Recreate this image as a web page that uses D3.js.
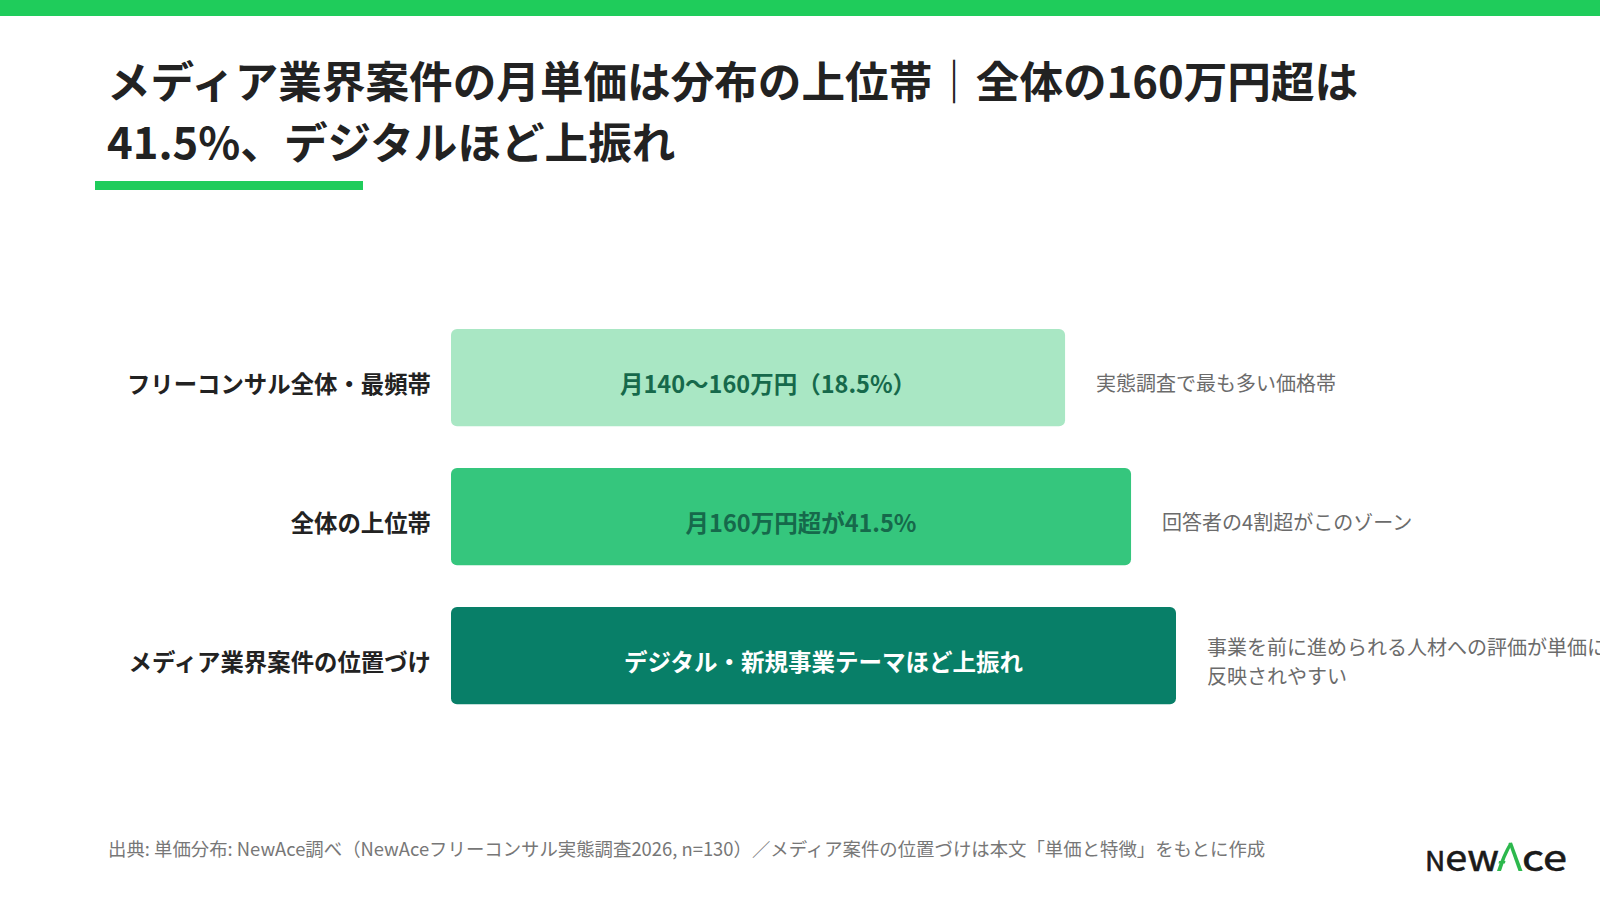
<!DOCTYPE html>
<html lang="ja">
<head>
<meta charset="utf-8">
<script src="https://cdn.jsdelivr.net/npm/d3@7"></script>
<style>
  html, body { margin: 0; padding: 0; background: #ffffff; }
  svg { display: block; }
  text { font-family: "Noto Sans CJK JP", "Noto Sans", sans-serif; }
</style>
</head>
<body>
<div id="chart"></div>
<script>
// chart data
const titleLines = ['メディア業界案件の月単価は分布の上位帯｜全体の160万円超は', '41.5%、デジタルほど上振れ'];
const categories = ['フリーコンサル全体・最頻帯', '全体の上位帯', 'メディア業界案件の位置づけ'];
const barValues = [84.7, 93.8, 100]; // relative bar length (illustrative)
const barLabels = ['月140〜160万円（18.5%）', '月160万円超が41.5%', 'デジタル・新規事業テーマほど上振れ'];
const notes = [
    ['実態調査で最も多い価格帯'],
    ['回答者の4割超がこのゾーン'],
    ['事業を前に進められる人材への評価が単価に', '反映されやすい']
];
const barColors = ['#a9e7c4', '#35c67d', '#087f68'];
const barTextColors = ['#16694b', '#16694b', '#ffffff'];
const sourceText = '出典: 単価分布: NewAce調べ（NewAceフリーコンサル実態調査2026, n=130）／メディア案件の位置づけは本文「単価と特徴」をもとに作成';

const width = 1600;
const height = 903;
const accent = '#1fcc5b';

const svg = d3.select('#chart').append('svg')
    .attr('width', width)
    .attr('height', height);

// top stripe
svg.append('rect')
    .attr('x', 0).attr('y', 0)
    .attr('width', width).attr('height', 16)
    .attr('fill', accent);

// title
svg.append('g')
    .selectAll('text')
    .data(titleLines)
    .enter().append('text')
    .attr('x', 107)
    .attr('y', (d, i) => 79 + i * 61)
    .attr('dominant-baseline', 'central')
    .attr('font-size', 43.6)
    .attr('font-weight', 700)
    .attr('fill', '#222222')
    .text(d => d);

// title underline
svg.append('rect')
    .attr('x', 95).attr('y', 181)
    .attr('width', 268).attr('height', 9)
    .attr('fill', accent);

// scales
const x = d3.scaleLinear()
    .domain([0, 100])
    .range([451, 451 + 725]);

const y = d3.scaleBand()
    .domain(categories)
    .range([329, 704.3])
    .paddingInner(0.3)
    .paddingOuter(0);

const rows = svg.append('g')
    .selectAll('g')
    .data(categories)
    .enter().append('g');

const textOffset = 5; // text sits a bit below the bar center

rows.append('rect')
    .attr('x', x(0))
    .attr('y', d => y(d))
    .attr('width', (d, i) => x(barValues[i]) - x(0))
    .attr('height', y.bandwidth())
    .attr('rx', 6)
    .attr('fill', (d, i) => barColors[i]);

// category labels
rows.append('text')
    .attr('x', x(0) - 20)
    .attr('y', d => y(d) + y.bandwidth() / 2 + textOffset)
    .attr('text-anchor', 'end')
    .attr('dominant-baseline', 'central')
    .attr('font-size', 23.4)
    .attr('font-weight', 700)
    .attr('fill', '#222222')
    .text(d => d);

// labels inside bars
rows.append('text')
    .attr('x', (d, i) => (x(0) + x(barValues[i])) / 2 + 10)
    .attr('y', d => y(d) + y.bandwidth() / 2 + textOffset)
    .attr('text-anchor', 'middle')
    .attr('dominant-baseline', 'central')
    .attr('font-size', 23.5)
    .attr('font-weight', 700)
    .attr('fill', (d, i) => barTextColors[i])
    .text((d, i) => barLabels[i]);

// notes to the right of bars
const lineGap = 29;
rows.each(function(d, i) {
    const lines = notes[i];
    const cy = y(d) + y.bandwidth() / 2 + textOffset;
    d3.select(this).append('g')
        .selectAll('text')
        .data(lines)
        .enter().append('text')
        .attr('x', x(barValues[i]) + 31)
        .attr('y', (l, j) => cy + (j - (lines.length - 1) / 2) * lineGap)
        .attr('dominant-baseline', 'central')
        .attr('font-size', 20)
        .attr('fill', '#6b6b6b')
        .text(l => l);
});

// source
svg.append('text')
    .attr('x', 108)
    .attr('y', 848)
    .attr('dominant-baseline', 'central')
    .attr('font-size', 18.4)
    .attr('fill', '#777777')
    .text(sourceText);

// logo: "New" + green stylised A + "ce"
const logo = svg.append('g')
    .attr('font-family', 'Lato, "DejaVu Sans", sans-serif')
    .attr('fill', '#1a1a1a')
    .attr('stroke', '#1a1a1a')
    .attr('stroke-width', 0.6);

const logoLeft = logo.append('text')
    .attr('x', 1425)
    .attr('y', 871)
    .attr('textLength', 74)
    .attr('lengthAdjust', 'spacingAndGlyphs');
logoLeft.append('tspan').attr('font-size', 26.5).text('N');
logoLeft.append('tspan').attr('font-size', 37.5).text('ew');

logo.append('text')
    .attr('x', 1522)
    .attr('y', 871)
    .attr('font-size', 37.5)
    .attr('textLength', 45)
    .attr('lengthAdjust', 'spacingAndGlyphs')
    .text('ce');

const logoA = svg.append('g').attr('fill', '#2db84d');
logoA.append('path')
    .attr('d', 'M1497,871 L1501,871 Q1505,857 1511.5,845 L1509.5,842.5 Q1502,855 1497,871 Z');
logoA.append('path')
    .attr('d', 'M1508.5,843 L1512,842.5 L1522.5,871 L1518.5,871 Z');
logoA.append('path')
    .attr('d', 'M1499,861 L1505.5,861 L1504.8,863.5 L1498.5,863.5 Z');
</script>
</body>
</html>
